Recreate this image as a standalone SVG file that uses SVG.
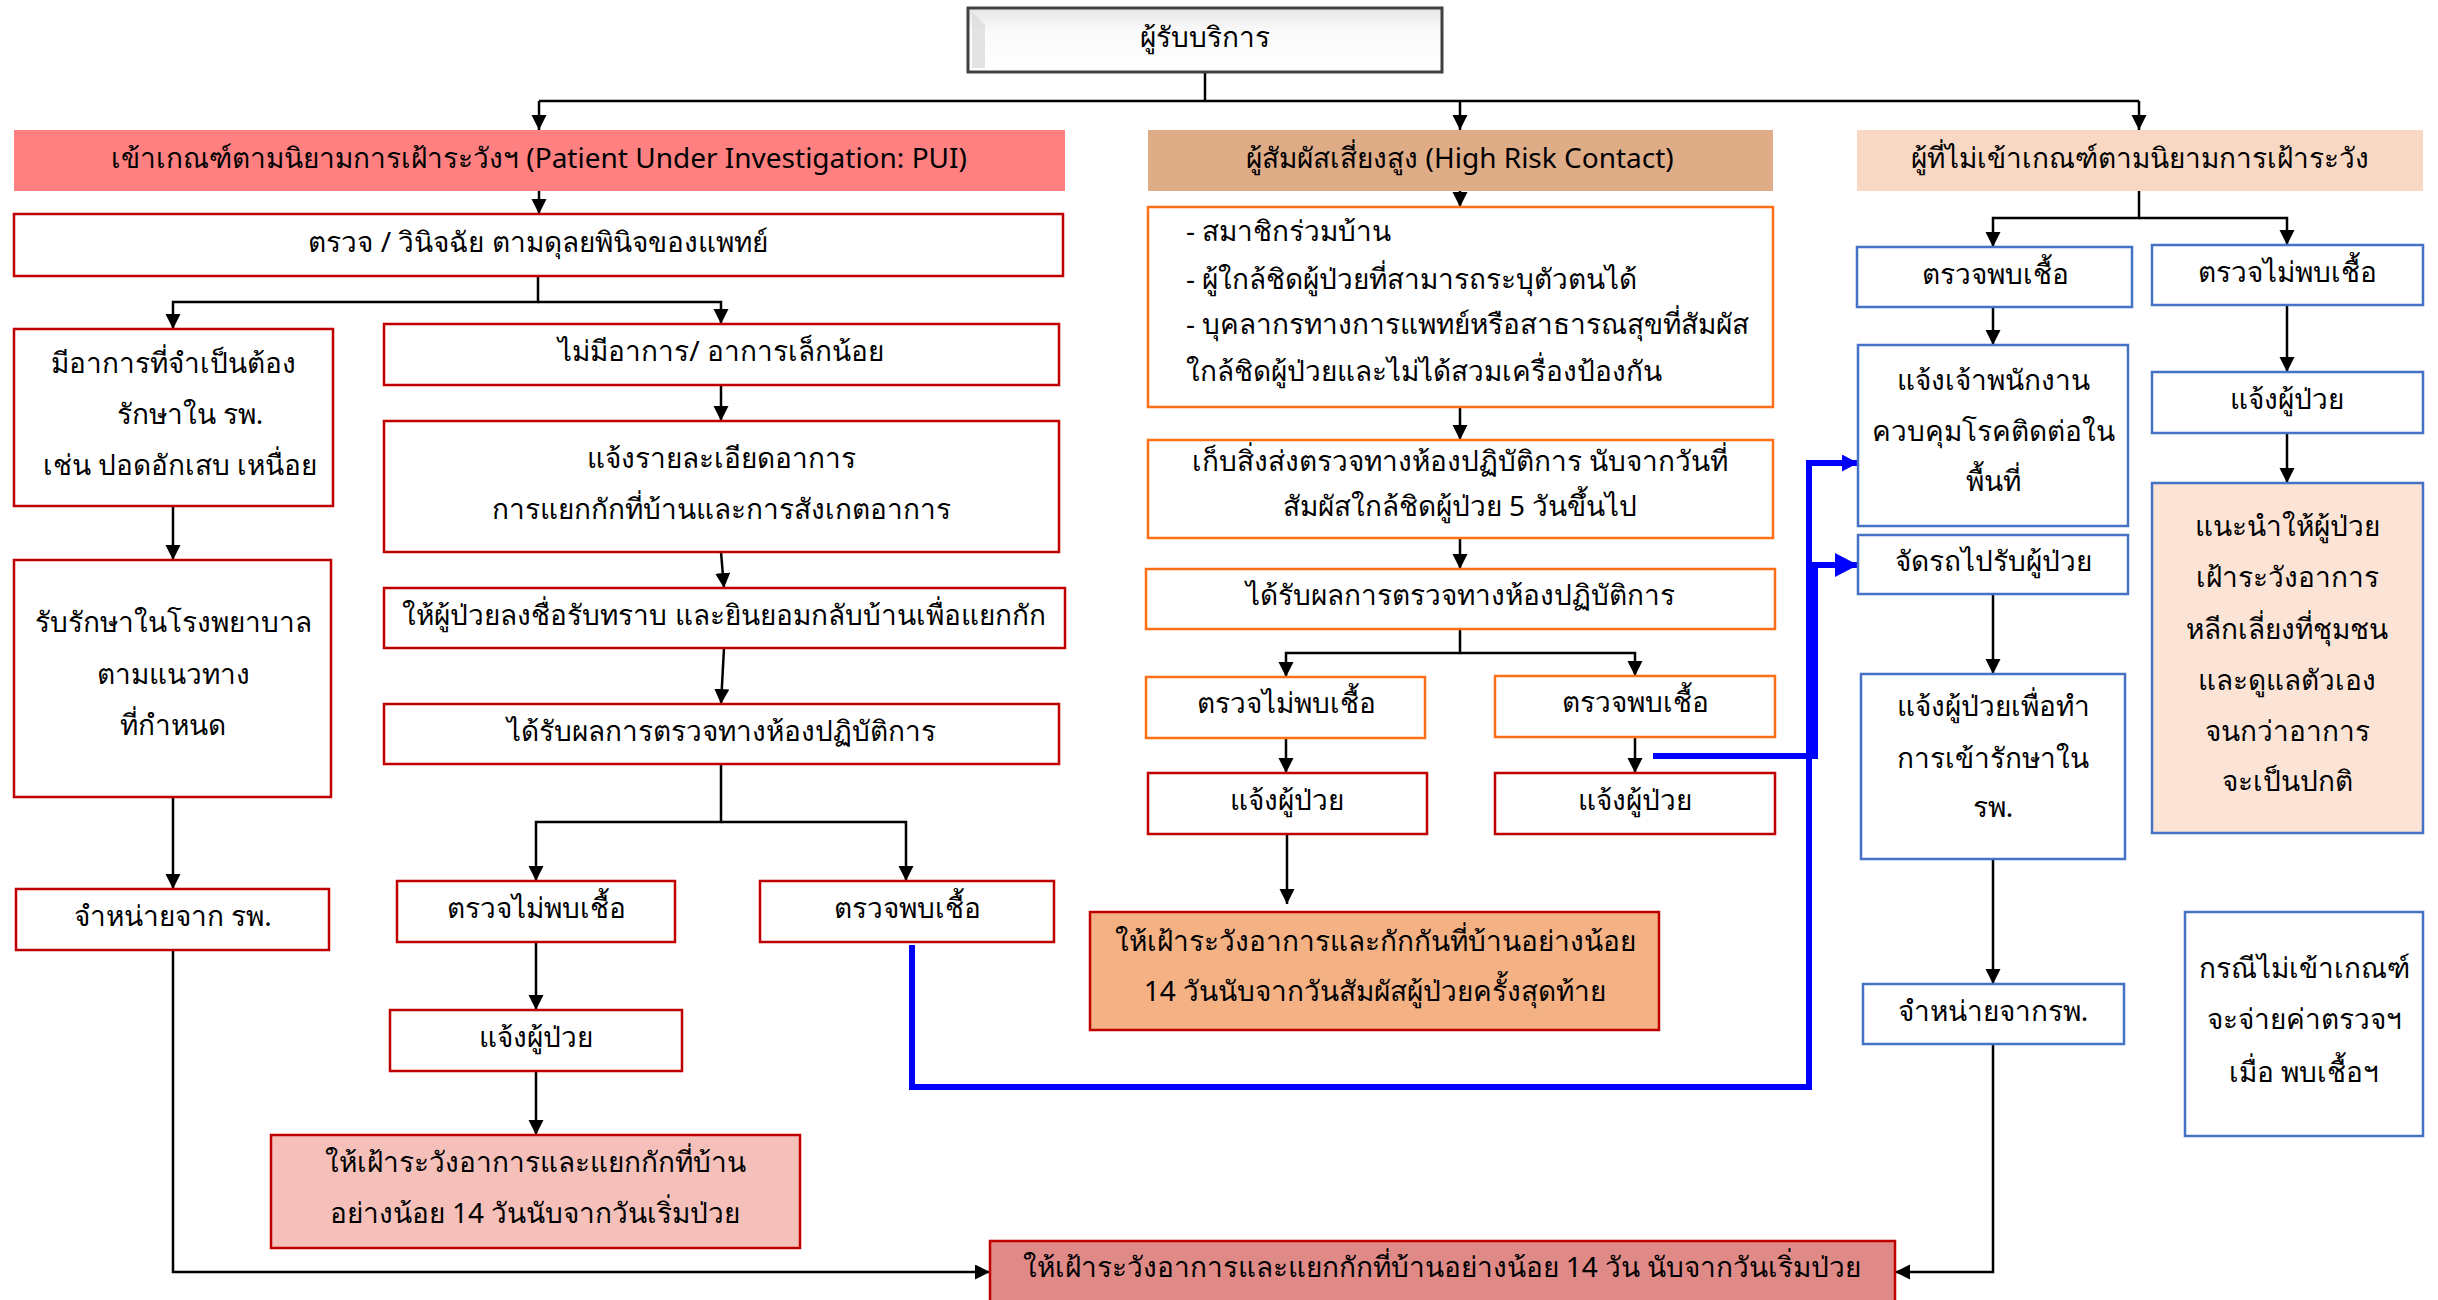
<svg xmlns="http://www.w3.org/2000/svg" width="2438" height="1300" viewBox="0 0 2438 1300">
<style>
.t{font-family:"Noto Sans","DejaVu Sans",sans-serif;font-size:28px;fill:#000;text-anchor:middle;dominant-baseline:central;transform:translateY(-2px)}
.ts{text-anchor:start}
.red{fill:#fff;stroke:#C00000;stroke-width:2.5}
.org{fill:#fff;stroke:#FF7016;stroke-width:2.5}
.blu{fill:#fff;stroke:#4472C4;stroke-width:2.5}
.cn{fill:none;stroke:#000;stroke-width:2.5}
.bl{fill:none;stroke:#0000FF;stroke-width:6}
</style>
<defs>
<marker id="ah" markerUnits="userSpaceOnUse" markerWidth="16" markerHeight="16" refX="15" refY="7.5" orient="auto" viewBox="0 0 16 16"><path d="M0,0 L15,7.5 L0,15 z" fill="#000"/></marker>
<marker id="bs" markerUnits="userSpaceOnUse" markerWidth="18" markerHeight="18" refX="16" refY="8.5" orient="auto" viewBox="0 0 18 18"><path d="M0,0 L16,8.5 L0,17 z" fill="#0000FF"/></marker>
<marker id="bb" markerUnits="userSpaceOnUse" markerWidth="25" markerHeight="25" refX="23" refY="12" orient="auto" viewBox="0 0 25 25"><path d="M0,0 L23,12 L0,24 z" fill="#0000FF"/></marker>
<linearGradient id="bev" x1="0" y1="0" x2="0" y2="1"><stop offset="0" stop-color="#e6e6e6"/><stop offset="0.35" stop-color="#fafafa"/><stop offset="1" stop-color="#ffffff"/></linearGradient>
</defs>
<rect width="2438" height="1300" fill="#fff"/>

<g id="connectors">
<path class="cn" d="M1205,72 V101"/>
<path class="cn" d="M539,101 H2139"/>
<path class="cn" marker-end="url(#ah)" d="M539,101 V130"/>
<path class="cn" marker-end="url(#ah)" d="M1460,101 V130"/>
<path class="cn" marker-end="url(#ah)" d="M2139,101 V130"/>
<path class="cn" marker-end="url(#ah)" d="M539,191 V214"/>
<path class="cn" marker-end="url(#ah)" d="M538,276 V302 H173 V329"/>
<path class="cn" marker-end="url(#ah)" d="M538,302 H721 V324"/>
<path class="cn" marker-end="url(#ah)" d="M721,385 V421"/>
<path class="cn" marker-end="url(#ah)" d="M721,552 L724,588"/>
<path class="cn" marker-end="url(#ah)" d="M724,648 L721,704"/>
<path class="cn" marker-end="url(#ah)" d="M721,764 V822 H536 V881"/>
<path class="cn" marker-end="url(#ah)" d="M721,822 H906 V881"/>
<path class="cn" marker-end="url(#ah)" d="M536,942 V1010"/>
<path class="cn" marker-end="url(#ah)" d="M536,1071 V1135"/>
<path class="cn" marker-end="url(#ah)" d="M173,506 V560"/>
<path class="cn" marker-end="url(#ah)" d="M173,797 V889"/>
<path class="cn" marker-end="url(#ah)" d="M173,950 V1272 H990"/>
<path class="cn" marker-end="url(#ah)" d="M1460,191 V207"/>
<path class="cn" marker-end="url(#ah)" d="M1460,407 V440"/>
<path class="cn" marker-end="url(#ah)" d="M1460,538 V569"/>
<path class="cn" marker-end="url(#ah)" d="M1460,629 V653 H1286 V677"/>
<path class="cn" marker-end="url(#ah)" d="M1460,653 H1635 V676"/>
<path class="cn" marker-end="url(#ah)" d="M1286,738 V773"/>
<path class="cn" marker-end="url(#ah)" d="M1635,737 V773"/>
<path class="cn" marker-end="url(#ah)" d="M1287,834 V904"/>
<path class="cn" marker-end="url(#ah)" d="M2139,191 V218 H1993 V247"/>
<path class="cn" marker-end="url(#ah)" d="M2139,218 H2287 V245"/>
<path class="cn" marker-end="url(#ah)" d="M1993,307 V345"/>
<path class="cn" marker-end="url(#ah)" d="M2287,305 V372"/>
<path class="cn" marker-end="url(#ah)" d="M2287,433 V483"/>
<path class="cn" marker-end="url(#ah)" d="M1993,594 V674"/>
<path class="cn" marker-end="url(#ah)" d="M1993,859 V984"/>
<path class="cn" marker-end="url(#ah)" d="M1993,1044 V1272 H1895"/>
<path class="bl" marker-end="url(#bs)" d="M912,945 V1087 H1809 V463 H1858"/>
<path class="bl" marker-end="url(#bb)" d="M1653,756 H1815 V565 H1858"/>
</g>

<g id="n-root">
<rect x="968" y="8" width="474" height="64" fill="url(#bev)" stroke="#404040" stroke-width="3"/>
<path d="M972,12 L985,25 L985,68 L972,68 z" fill="#d8d8d8" opacity="0.7"/>
<text class="t" x="1205" y="38">ผู้รับบริการ</text>
</g>

<g id="n-pui">
<rect x="14" y="130" width="1051" height="61" fill="#FF8080"/>
<text class="t" x="539" y="159">เข้าเกณฑ์ตามนิยามการเฝ้าระวังฯ (Patient Under Investigation: PUI)</text>
</g>
<g id="n-hrc">
<rect x="1148" y="130" width="625" height="61" fill="#DFAC88"/>
<text class="t" x="1460" y="159">ผู้สัมผัสเสี่ยงสูง (High Risk Contact)</text>
</g>
<g id="n-non">
<rect x="1857" y="130" width="566" height="61" fill="#F8D8C2"/>
<text class="t" x="2140" y="159">ผู้ที่ไม่เข้าเกณฑ์ตามนิยามการเฝ้าระวัง</text>
</g>

<g id="n-diag">
<rect class="red" x="14" y="214" width="1049" height="62"/>
<text class="t" x="538" y="243">ตรวจ / วินิจฉัย ตามดุลยพินิจของแพทย์</text>
</g>
<g id="n-severe">
<rect class="red" x="14" y="329" width="319" height="177"/>
<text class="t" x="173" y="364">มีอาการที่จำเป็นต้อง</text>
<text class="t" x="190" y="415">รักษาใน รพ.</text>
<text class="t" x="180" y="466">เช่น ปอดอักเสบ เหนื่อย</text>
</g>
<g id="n-mild">
<rect class="red" x="384" y="324" width="675" height="61"/>
<text class="t" x="721" y="352">ไม่มีอาการ/ อาการเล็กน้อย</text>
</g>
<g id="n-inform">
<rect class="red" x="384" y="421" width="675" height="131"/>
<text class="t" x="721" y="459">แจ้งรายละเอียดอาการ</text>
<text class="t" x="721" y="510">การแยกกักที่บ้านและการสังเกตอาการ</text>
</g>
<g id="n-consent">
<rect class="red" x="384" y="588" width="681" height="60"/>
<text class="t" x="724" y="616">ให้ผู้ป่วยลงชื่อรับทราบ และยินยอมกลับบ้านเพื่อแยกกัก</text>
</g>
<g id="n-labres">
<rect class="red" x="384" y="704" width="675" height="60"/>
<text class="t" x="721" y="732">ได้รับผลการตรวจทางห้องปฏิบัติการ</text>
</g>
<g id="n-pui-neg">
<rect class="red" x="397" y="881" width="278" height="61"/>
<text class="t" x="536" y="909">ตรวจไม่พบเชื้อ</text>
</g>
<g id="n-pui-pos">
<rect class="red" x="760" y="881" width="294" height="61"/>
<text class="t" x="907" y="909">ตรวจพบเชื้อ</text>
</g>
<g id="n-pui-tell">
<rect class="red" x="390" y="1010" width="292" height="61"/>
<text class="t" x="536" y="1038">แจ้งผู้ป่วย</text>
</g>
<g id="n-pui-home">
<rect class="red" x="271" y="1135" width="529" height="113" style="fill:#F5C0B9"/>
<text class="t" x="535" y="1163">ให้เฝ้าระวังอาการและแยกกักที่บ้าน</text>
<text class="t" x="535" y="1214">อย่างน้อย 14 วันนับจากวันเริ่มป่วย</text>
</g>
<g id="n-admit">
<rect class="red" x="14" y="560" width="317" height="237"/>
<text class="t" x="173" y="623">รับรักษาในโรงพยาบาล</text>
<text class="t" x="173" y="675">ตามแนวทาง</text>
<text class="t" x="173" y="726">ที่กำหนด</text>
</g>
<g id="n-discharge">
<rect class="red" x="16" y="889" width="313" height="61"/>
<text class="t" x="173" y="917">จำหน่ายจาก รพ.</text>
</g>
<g id="n-final">
<rect class="red" x="990" y="1241" width="905" height="61" style="fill:#E08A88"/>
<text class="t" x="1442" y="1268">ให้เฝ้าระวังอาการและแยกกักที่บ้านอย่างน้อย 14 วัน นับจากวันเริ่มป่วย</text>
</g>

<g id="n-hrc-list">
<rect class="org" x="1148" y="207" width="625" height="200"/>
<text class="t ts" x="1186" y="232">- สมาชิกร่วมบ้าน</text>
<text class="t ts" x="1186" y="280">- ผู้ใกล้ชิดผู้ป่วยที่สามารถระบุตัวตนได้</text>
<text class="t ts" x="1186" y="325">- บุคลากรทางการแพทย์หรือสาธารณสุขที่สัมผัส</text>
<text class="t ts" x="1186" y="372">ใกล้ชิดผู้ป่วยและไม่ได้สวมเครื่องป้องกัน</text>
</g>
<g id="n-hrc-sample">
<rect class="org" x="1148" y="440" width="625" height="98"/>
<text class="t" x="1460" y="462">เก็บสิ่งส่งตรวจทางห้องปฏิบัติการ นับจากวันที่</text>
<text class="t" x="1460" y="507">สัมผัสใกล้ชิดผู้ป่วย 5 วันขึ้นไป</text>
</g>
<g id="n-hrc-res">
<rect class="org" x="1146" y="569" width="629" height="60"/>
<text class="t" x="1460" y="596">ได้รับผลการตรวจทางห้องปฏิบัติการ</text>
</g>
<g id="n-hrc-neg">
<rect class="org" x="1146" y="677" width="279" height="61"/>
<text class="t" x="1286" y="704">ตรวจไม่พบเชื้อ</text>
</g>
<g id="n-hrc-pos">
<rect class="org" x="1495" y="676" width="280" height="61"/>
<text class="t" x="1635" y="703">ตรวจพบเชื้อ</text>
</g>
<g id="n-hrc-tell1">
<rect class="red" x="1148" y="773" width="279" height="61"/>
<text class="t" x="1287" y="801">แจ้งผู้ป่วย</text>
</g>
<g id="n-hrc-tell2">
<rect class="red" x="1495" y="773" width="280" height="61"/>
<text class="t" x="1635" y="801">แจ้งผู้ป่วย</text>
</g>
<g id="n-hrc-home">
<rect class="red" x="1090" y="912" width="569" height="118" style="fill:#F4B183"/>
<text class="t" x="1375" y="942">ให้เฝ้าระวังอาการและกักกันที่บ้านอย่างน้อย</text>
<text class="t" x="1375" y="992">14 วันนับจากวันสัมผัสผู้ป่วยครั้งสุดท้าย</text>
</g>

<g id="n-non-pos">
<rect class="blu" x="1857" y="247" width="275" height="60"/>
<text class="t" x="1995" y="275">ตรวจพบเชื้อ</text>
</g>
<g id="n-non-neg">
<rect class="blu" x="2152" y="245" width="271" height="60"/>
<text class="t" x="2287" y="273">ตรวจไม่พบเชื้อ</text>
</g>
<g id="n-officer">
<rect class="blu" x="1858" y="345" width="270" height="181"/>
<text class="t" x="1993" y="381">แจ้งเจ้าพนักงาน</text>
<text class="t" x="1993" y="432">ควบคุมโรคติดต่อใน</text>
<text class="t" x="1993" y="482">พื้นที่</text>
</g>
<g id="n-non-tell">
<rect class="blu" x="2152" y="372" width="271" height="61"/>
<text class="t" x="2287" y="400">แจ้งผู้ป่วย</text>
</g>
<g id="n-advice">
<rect class="blu" x="2152" y="483" width="271" height="350" style="fill:#FBE3D5"/>
<text class="t" x="2287" y="527">แนะนำให้ผู้ป่วย</text>
<text class="t" x="2287" y="578">เฝ้าระวังอาการ</text>
<text class="t" x="2287" y="630">หลีกเลี่ยงที่ชุมชน</text>
<text class="t" x="2287" y="681">และดูแลตัวเอง</text>
<text class="t" x="2287" y="732">จนกว่าอาการ</text>
<text class="t" x="2287" y="782">จะเป็นปกติ</text>
</g>
<g id="n-car">
<rect class="blu" x="1858" y="535" width="270" height="59"/>
<text class="t" x="1993" y="562">จัดรถไปรับผู้ป่วย</text>
</g>
<g id="n-admit2">
<rect class="blu" x="1861" y="674" width="264" height="185"/>
<text class="t" x="1993" y="707">แจ้งผู้ป่วยเพื่อทำ</text>
<text class="t" x="1993" y="759">การเข้ารักษาใน</text>
<text class="t" x="1993" y="808">รพ.</text>
</g>
<g id="n-discharge2">
<rect class="blu" x="1863" y="984" width="261" height="60"/>
<text class="t" x="1993" y="1012">จำหน่ายจากรพ.</text>
</g>
<g id="n-note">
<rect class="blu" x="2185" y="912" width="238" height="224"/>
<text class="t" x="2304" y="969">กรณีไม่เข้าเกณฑ์</text>
<text class="t" x="2304" y="1020">จะจ่ายค่าตรวจฯ</text>
<text class="t" x="2304" y="1073">เมื่อ พบเชื้อฯ</text>
</g>
</svg>
